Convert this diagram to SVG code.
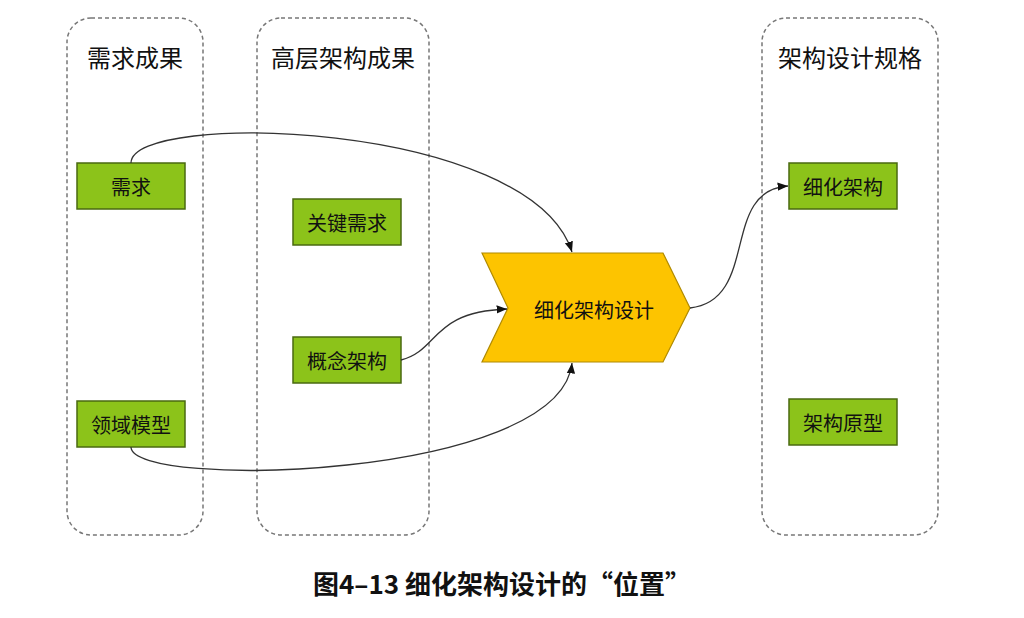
<svg xmlns="http://www.w3.org/2000/svg" width="1024" height="618" viewBox="0 0 1024 618">
<style>
text{font-family:"Noto Sans CJK SC","Noto Sans",sans-serif;fill:#111}
.lane{fill:none;stroke:#777;stroke-width:1.5;stroke-dasharray:4 3}
.lt{font-size:24px;text-anchor:middle}
.g{fill:#8cc31a;stroke:#4a6a10;stroke-width:1.5}
.gt{font-size:20px;text-anchor:middle;dominant-baseline:central}
.c{fill:none;stroke:#333;stroke-width:1.3;marker-end:url(#a)}
</style>
<defs><marker id="a" viewBox="0 0 10 10" refX="10" refY="5" markerWidth="8" markerHeight="8" orient="auto"><path d="M0,1L10,5L0,9z" fill="#111"/></marker></defs>
<rect fill="#fff" width="1024" height="618"/>
<g id="lane1"><rect class="lane" x="67" y="18" width="136" height="517" rx="24"/><text class="lt" x="135" y="67">需求成果</text></g>
<g id="lane2"><rect class="lane" x="257" y="18" width="172" height="517" rx="24"/><text class="lt" x="343" y="67">高层架构成果</text></g>
<g id="lane3"><rect class="lane" x="762" y="18" width="176" height="517" rx="24"/><text class="lt" x="850" y="67">架构设计规格</text></g>
<g id="n1"><rect class="g" x="77" y="163" width="108" height="46"/><text class="gt" x="131" y="186">需求</text></g>
<g id="n2"><rect class="g" x="293" y="199" width="108" height="46"/><text class="gt" x="347" y="222">关键需求</text></g>
<g id="n3"><rect class="g" x="293" y="337" width="108" height="46"/><text class="gt" x="347" y="360">概念架构</text></g>
<g id="n4"><rect class="g" x="77" y="401" width="108" height="46"/><text class="gt" x="131" y="424">领域模型</text></g>
<g id="n5"><rect class="g" x="789" y="163" width="108" height="46"/><text class="gt" x="843" y="186">细化架构</text></g>
<g id="n6"><rect class="g" x="789" y="399" width="108" height="46"/><text class="gt" x="843" y="422">架构原型</text></g>
<g id="center"><path d="M482,253L663,253L690,308L663,362L482,362L508,308Z" fill="#fdc400" stroke="#b08a00" stroke-width="1.2"/><text class="gt" x="594" y="309">细化架构设计</text></g>
<g id="connectors">
<path class="c" d="M131,163C131,110 530,120 572,252"/>
<path class="c" d="M401,360C440,350 430,312 507,309"/>
<path class="c" d="M131,447C131,490 560,480 572,363"/>
<path class="c" d="M690,308C760,300 720,190 788,186"/>
</g>
<text x="502" y="594" style="font-size:26px;font-weight:bold;text-anchor:middle">图4–13 细化架构设计的“位置”</text>
</svg>
